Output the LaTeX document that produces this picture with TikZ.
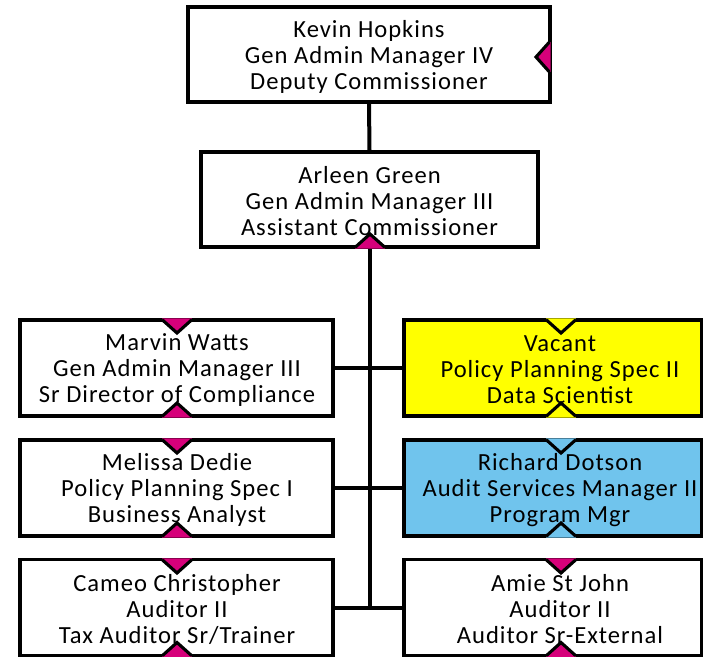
\documentclass[tikz,border=0pt]{standalone}
\usepackage{fontspec}
\setmainfont{Carlito}[LetterSpace=4]
\definecolor{mag}{RGB}{214,0,122}
\definecolor{yel}{RGB}{255,255,0}
\definecolor{sky}{RGB}{112,196,237}
\newcommand\notchD[3]{%
  \fill[#3] (#1-15,#2-1.6) -- (#1+15,#2-1.6) -- (#1,#2+13) -- cycle;
  \draw[notchline] (#1-14.5,#2) -- (#1,#2+13) -- (#1+14.5,#2);}
\newcommand\notchU[3]{%
  \fill[#3] (#1-15,#2+1.6) -- (#1+15,#2+1.6) -- (#1,#2-13) -- cycle;
  \draw[notchline] (#1-14.5,#2) -- (#1,#2-13) -- (#1+14.5,#2);}
\newcommand\notchL[3]{%
  \fill[#3] (#1+1.6,#2-15) -- (#1+1.6,#2+15) -- (#1-13,#2) -- cycle;
  \draw[notchline] (#1,#2-14.5) -- (#1-13,#2) -- (#1,#2+14.5);}
\begin{document}
\begin{tikzpicture}[x=1pt,y=-1pt,
  box/.style={draw=black, line width=3.1pt, rectangle, inner sep=0pt},
  txt/.style={align=center, inner sep=0pt, font=\fontsize{24.6}{26}\selectfont},
  notchline/.style={draw=black, line width=3.1pt, line join=miter},
  conn/.style={draw=black, line width=4pt}]
\useasboundingbox (0,0) rectangle (703,656);
\clip (0,0) rectangle (703,656);
\fill[white] (0,0) rectangle (703,656);
% boxes
\node[box, fill=white, minimum width=362pt, minimum height=95pt] (kevin) at (369,54.5) {};
\node[box, fill=white, minimum width=337pt, minimum height=95pt] (arleen) at (369.5,199.5) {};
\node[box, fill=white, minimum width=313pt, minimum height=96pt] (marvin) at (176.5,368) {};
\node[box, fill=yel, minimum width=298pt, minimum height=96pt] (vacant) at (553,368) {};
\node[box, fill=white, minimum width=313pt, minimum height=96pt] (melissa) at (176.5,488) {};
\node[box, fill=sky, minimum width=298pt, minimum height=96pt] (richard) at (553,488) {};
\node[box, fill=white, minimum width=313pt, minimum height=96pt] (cameo) at (176.5,607.5) {};
\node[box, fill=white, minimum width=298pt, minimum height=96pt] (amie) at (553,607.5) {};
% connectors
\draw[conn] (kevin.south) -- (arleen.north);
\draw[conn] (arleen.south) -- (arleen.south |- cameo.east);
\draw[conn] (marvin.east) -- (vacant.west);
\draw[conn] (melissa.east) -- (richard.west);
\draw[conn] (cameo.east) -- (amie.west);
% notches
\notchL{549}{57}{mag}
\notchU{370}{247}{mag}
\notchD{177}{320}{mag}\notchU{177}{416}{mag}
\notchD{561}{320}{yel}\notchU{561}{416}{yel}
\notchD{177}{440}{mag}\notchU{177}{536}{mag}
\notchD{561}{440}{sky}\notchU{561}{536}{sky}
\notchD{177}{560}{mag}\notchU{177}{655.5}{mag}
\notchD{561}{560}{mag}\notchU{561}{655.5}{mag}
% texts
\node[txt] (kevin-t) at (369,56.5) {Kevin Hopkins\\Gen Admin Manager IV\\Deputy Commissioner};
\node[txt] (arleen-t) at (369.5,201.5) {Arleen Green\\Gen Admin Manager III\\Assistant Commissioner};
\node[txt] (marvin-t) at (177,370) {Marvin Watts\\Gen Admin Manager III\\Sr Director of Compliance};
\node[txt] (vacant-t) at (560,370) {Vacant\\Policy Planning Spec II\\Data Scientist};
\node[txt] (melissa-t) at (177,490) {Melissa Dedie\\Policy Planning Spec I\\Business Analyst};
\node[txt] (richard-t) at (560,490) {Richard Dotson\\Audit Services Manager II\\Program Mgr};
\node[txt] (cameo-t) at (177,609.5) {Cameo Christopher\\Auditor II\\Tax Auditor Sr/Trainer};
\node[txt] (amie-t) at (560,609.5) {Amie St John\\Auditor II\\Auditor Sr-External};
\end{tikzpicture}
\end{document}
